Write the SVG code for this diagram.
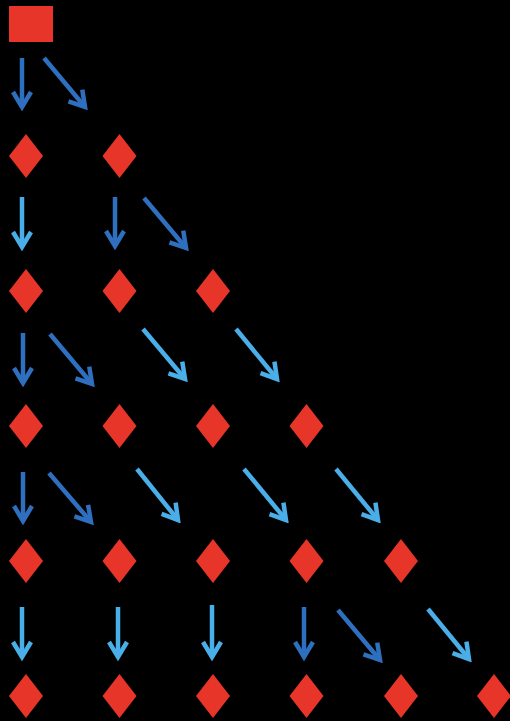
<svg xmlns="http://www.w3.org/2000/svg" width="510" height="721" viewBox="0 0 510 721">
<style>
.n{fill:#e8352a}
.d{stroke:#2f6fbf;stroke-width:4.5;fill:none;marker-end:url(#hd)}
.l{stroke:#4aaee8;stroke-width:4.5;fill:none;marker-end:url(#hl)}
</style>
<defs>
<marker id="hd" markerUnits="userSpaceOnUse" viewBox="-20 -12 24 24" refX="0" refY="0" markerWidth="24" markerHeight="24" orient="auto"><path d="M-15,-9 L0,0 L-15,9" fill="none" stroke="#2f6fbf" stroke-width="4.5"/></marker>
<marker id="hl" markerUnits="userSpaceOnUse" viewBox="-20 -12 24 24" refX="0" refY="0" markerWidth="24" markerHeight="24" orient="auto"><path d="M-15,-9 L0,0 L-15,9" fill="none" stroke="#4aaee8" stroke-width="4.5"/></marker>
<path id="dm" d="M0,-22 L17,0 L0,22 L-17,0 Z"/>
</defs>
<rect width="510" height="721" fill="#000"/>
<g id="root"><rect class="n" x="9" y="6" width="44" height="36"/></g>
<g id="r1c0"><use href="#dm" class="n" x="26" y="156"/></g>
<g id="r1c1"><use href="#dm" class="n" x="119.5" y="156"/></g>
<g id="r2c0"><use href="#dm" class="n" x="26" y="291"/></g>
<g id="r2c1"><use href="#dm" class="n" x="119.5" y="291"/></g>
<g id="r2c2"><use href="#dm" class="n" x="213" y="291"/></g>
<g id="r3c0"><use href="#dm" class="n" x="26" y="426"/></g>
<g id="r3c1"><use href="#dm" class="n" x="119.5" y="426"/></g>
<g id="r3c2"><use href="#dm" class="n" x="213" y="426"/></g>
<g id="r3c3"><use href="#dm" class="n" x="306.5" y="426"/></g>
<g id="r4c0"><use href="#dm" class="n" x="26" y="561"/></g>
<g id="r4c1"><use href="#dm" class="n" x="119.5" y="561"/></g>
<g id="r4c2"><use href="#dm" class="n" x="213" y="561"/></g>
<g id="r4c3"><use href="#dm" class="n" x="306.5" y="561"/></g>
<g id="r4c4"><use href="#dm" class="n" x="401" y="561"/></g>
<g id="r5c0"><use href="#dm" class="n" x="26" y="696"/></g>
<g id="r5c1"><use href="#dm" class="n" x="119.5" y="696"/></g>
<g id="r5c2"><use href="#dm" class="n" x="213" y="696"/></g>
<g id="r5c3"><use href="#dm" class="n" x="306.5" y="696"/></g>
<g id="r5c4"><use href="#dm" class="n" x="401" y="696"/></g>
<g id="r5c5"><use href="#dm" class="n" x="494" y="696"/></g>
<g id="connectors">
<path class="d" d="M22,58 L22,107"/>
<path class="d" d="M44,58 L85,107"/>
<path class="l" d="M22,197 L22,247"/>
<path class="d" d="M115,197 L115,246"/>
<path class="d" d="M144,198 L186,248"/>
<path class="d" d="M23,333 L23,383"/>
<path class="d" d="M50,334 L92,384"/>
<path class="l" d="M143,329 L185,379"/>
<path class="l" d="M236,329 L277,379"/>
<path class="d" d="M23,472 L23,521"/>
<path class="d" d="M49,473 L91,522"/>
<path class="l" d="M137,469 L178,520"/>
<path class="l" d="M244,469 L286,520"/>
<path class="l" d="M336,469 L378,520"/>
<path class="l" d="M22,607 L22,657"/>
<path class="l" d="M118,607 L118,657"/>
<path class="l" d="M212,605 L212,657"/>
<path class="d" d="M304,607 L304,657"/>
<path class="d" d="M338,610 L380,660"/>
<path class="l" d="M428,609 L469,659"/>
</g>
</svg>
